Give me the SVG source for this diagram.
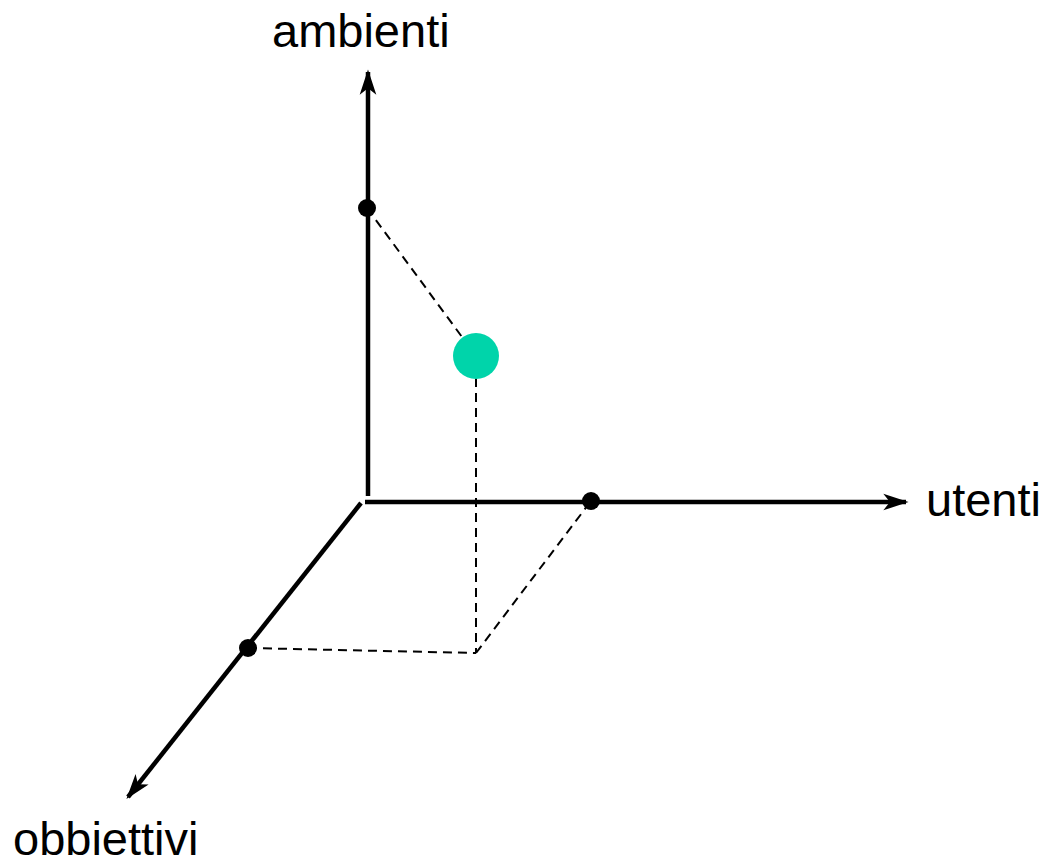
<svg xmlns="http://www.w3.org/2000/svg" width="1051" height="867" viewBox="0 0 1051 867">
  <style>
    .axis { stroke: #000; stroke-width: 4.5; fill: none; }
    .guide { stroke: #000; stroke-width: 2; stroke-dasharray: 9 6; fill: none; }
    .label { font-family: "Liberation Sans", Arial, sans-serif; font-size: 47px; fill: #000; }
    .tick { fill: #000; }
  </style>
  <defs>
    <marker id="arrow" viewBox="0 0 10 10" refX="9" refY="5" markerWidth="5.6" markerHeight="5.6" markerUnits="strokeWidth" orient="auto">
      <path d="M0,1.7 L10,5 L0,8.3 L2.6,5 Z" fill="#000"/>
    </marker>
  </defs>
  <rect width="1051" height="867" fill="#fff"/>

  <g id="connectors">
    <line class="axis" x1="368" y1="496" x2="368" y2="72" marker-end="url(#arrow)"/>
    <line class="axis" x1="365" y1="502" x2="906" y2="502" marker-end="url(#arrow)"/>
    <line class="axis" x1="361" y1="503" x2="128" y2="797" marker-end="url(#arrow)"/>
    <line class="guide" x1="367" y1="208" x2="476" y2="356"/>
    <line class="guide" x1="476" y1="378" x2="476" y2="653"/>
    <line class="guide" x1="248" y1="648" x2="476" y2="653"/>
    <line class="guide" x1="476" y1="653" x2="591" y2="501"/>
  </g>

  <g id="point-ambienti"><circle class="tick" cx="367" cy="208" r="9"/></g>
  <g id="point-utenti"><circle class="tick" cx="591" cy="501" r="9"/></g>
  <g id="point-obbiettivi"><circle class="tick" cx="248" cy="648" r="9"/></g>
  <g id="point-main"><circle cx="476" cy="356" r="23" fill="#00D4AA"/></g>

  <g id="label-ambienti"><text class="label" x="272" y="47">ambienti</text></g>
  <g id="label-utenti"><text class="label" x="926" y="516">utenti</text></g>
  <g id="label-obbiettivi"><text class="label" x="13" y="855">obbiettivi</text></g>
</svg>
